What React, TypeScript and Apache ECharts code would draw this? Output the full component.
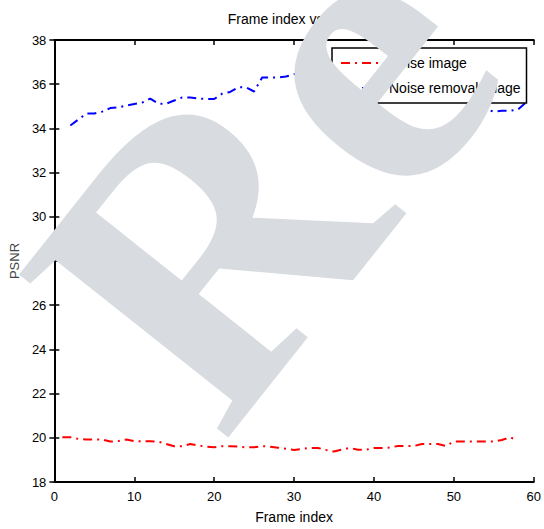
import React, { useEffect, useRef } from "react";
import * as echarts from "echarts";

const xTicks = [0, 10, 20, 30, 40, 50, 60];
const yTicks = [18, 20, 22, 24, 26, 28, 30, 32, 34, 36, 38];

const noiseFrames = [1,2,3,4,5,6,7,8,9,10,11,12,13,14,15,16,17,18,19,20,21,22,23,24,25,26,27,28,29,30,31,32,33,34,35,36,37,38,39,40,41,42,43,44,45,46,47,48,49,50,51,52,53,54,55,56,57,58];
const noiseImage = [20.03,20.03,19.95,19.92,19.92,19.92,19.83,19.85,19.92,19.85,19.84,19.84,19.83,19.72,19.62,19.62,19.72,19.65,19.6,19.57,19.62,19.62,19.6,19.57,19.57,19.62,19.6,19.55,19.5,19.45,19.5,19.54,19.54,19.45,19.38,19.47,19.54,19.46,19.46,19.54,19.54,19.56,19.63,19.63,19.63,19.72,19.72,19.72,19.63,19.83,19.83,19.83,19.83,19.83,19.83,19.9,20.02,19.9];

const removalFrames = [2,3,4,5,6,7,8,9,10,11,12,13,14,15,16,17,18,19,20,21,22,23,24,25,26,27,28,29,30,31,32,33,34,35,36,37,38,39,40,41,42,43,44,45,46,47,48,49,50,51,52,53,54,55,56,57,58,59];
const removalImage = [34.13,34.4,34.67,34.67,34.76,34.92,34.95,35.03,35.1,35.17,35.35,35.12,35.12,35.26,35.4,35.4,35.35,35.33,35.33,35.57,35.65,35.86,35.86,35.67,36.3,36.3,36.3,36.35,36.45,36.5,36.5,36.3,36.1,36.0,35.9,35.8,35.9,35.7,35.8,35.6,35.7,35.6,35.5,35.6,35.5,35.4,35.5,35.3,35.4,35.3,35.1,35.1,34.85,34.76,34.8,34.8,34.85,35.17];

const seriesNames = ["Noise image", "Noise removal image"];

export default function App() {
  const ref = useRef<HTMLDivElement>(null);
  useEffect(() => {
    document.body.style.margin = "0";
    if (!ref.current) return;
    const chart = echarts.init(ref.current, undefined, { renderer: "svg" });
    const font = "Liberation Sans";
    const dash = [9, 5, 2, 5];
    const baseAxis = {
      type: "value" as const,
      axisLine: { show: true, lineStyle: { color: "#000", width: 2 } },
      axisTick: { show: true, inside: true, length: 5, lineStyle: { color: "#000", width: 1.5 } },
      splitLine: { show: false },
    };
    chart.setOption({
      animation: false,
      backgroundColor: "#fff",
      title: {
        text: "Frame index vs PSNR",
        left: 292,
        top: 7,
        textAlign: "center",
        textStyle: { fontFamily: font, fontSize: 14, fontWeight: "normal", color: "#000" },
      },
      grid: { left: 50, right: 7, top: 40, bottom: 44 },
      legend: {
        orient: "vertical",
        left: 332,
        top: 48,
        padding: [8, 6, 8, 8],
        itemGap: 11,
        itemWidth: 43,
        itemHeight: 14,
        backgroundColor: "#fff",
        borderColor: "#000",
        borderWidth: 1.5,
        borderRadius: 0,
        z: 5,
        itemStyle: { opacity: 0 },
        textStyle: { fontFamily: font, fontSize: 14, color: "#000" },
        data: seriesNames,
      },
      xAxis: [
        {
          ...baseAxis,
          min: 0,
          max: 60,
          interval: 10,
          position: "bottom",
          name: "Frame index",
          nameLocation: "middle",
          nameGap: 28,
          nameTextStyle: { fontFamily: font, fontSize: 14, color: "#000" },
          axisLabel: {
            fontFamily: font,
            fontSize: 13,
            color: "#000",
            margin: 8,
            formatter: (v: number) => (xTicks.includes(v) ? String(v) : ""),
          },
        },
        { ...baseAxis, min: 0, max: 60, interval: 10, position: "top", axisLabel: { show: false } },
      ],
      yAxis: [
        {
          ...baseAxis,
          min: 18,
          max: 38,
          interval: 2,
          position: "left",
          name: "PSNR",
          nameLocation: "middle",
          nameGap: 32,
          nameTextStyle: { fontFamily: font, fontSize: 13, color: "#444" },
          axisLabel: {
            fontFamily: font,
            fontSize: 13,
            color: "#000",
            margin: 8,
            formatter: (v: number) => (yTicks.includes(v) ? String(v) : ""),
          },
        },
        { ...baseAxis, min: 18, max: 38, interval: 2, position: "right", axisLabel: { show: false } },
      ],
      series: [
        {
          name: seriesNames[0],
          type: "line",
          symbol: "none",
          color: "#ff0000",
          lineStyle: { color: "#ff0000", width: 2, type: dash },
          data: noiseFrames.map((f, i) => [f, noiseImage[i]]),
          z: 2,
        },
        {
          name: seriesNames[1],
          type: "line",
          symbol: "none",
          color: "#0000ff",
          lineStyle: { color: "#0000ff", width: 2, type: dash },
          data: removalFrames.map((f, i) => [f, removalImage[i]]),
          z: 2,
        },
      ],
      graphic: [
        {
          type: "text",
          x: 274,
          y: 486,
          rotation: 0.9,
          z: 100,
          silent: true,
          style: {
            text: "Review",
            font: "bold 405px 'Liberation Serif'",
            fill: "#d8dbe0",
            align: "left",
            verticalAlign: "bottom",
          },
        },
      ],
    });
    return () => chart.dispose();
  }, []);
  return <div ref={ref} style={{ width: 544, height: 529 }} />;
}
